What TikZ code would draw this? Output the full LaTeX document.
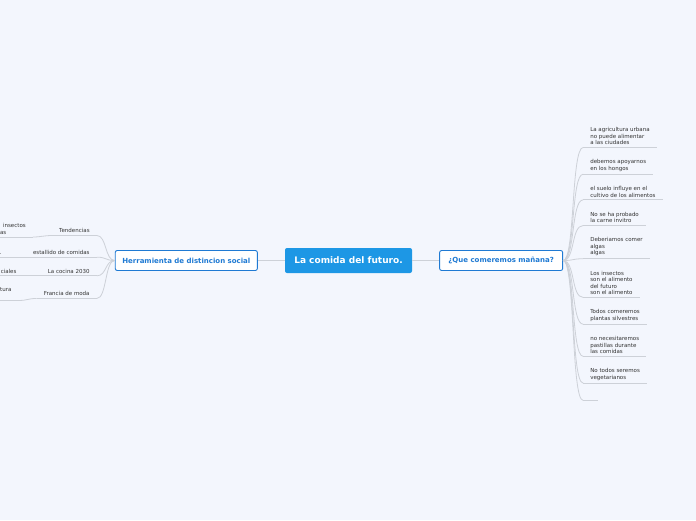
\documentclass[tikz,border=0pt]{standalone}
\usepackage{fontspec}
\setmainfont{DejaVu Sans}
\usepackage{xcolor}
\usetikzlibrary{positioning}

\definecolor{bgblue}{HTML}{F3F6FD}
\definecolor{rootblue}{HTML}{1D97E5}
\definecolor{topicblue}{HTML}{1F7AD3}
\definecolor{linkgray}{HTML}{CDD1D8}
\definecolor{leafgray}{HTML}{333333}

\begin{document}
\begin{tikzpicture}[
    x=1pt, y=-1pt,
    root/.style={
        rectangle,
        rounded corners=2pt,
        fill=rootblue,
        text=white,
        minimum width=127pt,
        minimum height=25pt,
        font=\bfseries\fontsize{9}{10}\selectfont
    },
    topic/.style={
        rectangle,
        rounded corners=2pt,
        draw=topicblue,
        line width=0.9pt,
        fill=white,
        text=topicblue,
        minimum height=20pt,
        inner xsep=7pt,
        font=\bfseries\fontsize{7}{8}\selectfont
    },
    leaf/.style={
        inner xsep=7pt,
        inner ysep=2.5pt,
        align=left,
        text=leafgray,
        font=\fontsize{5.5}{6.5}\selectfont,
        append after command={(\tikzlastnode.south west) edge[link] (\tikzlastnode.south east)}
    },
    link/.style={draw=linkgray, line width=0.8pt}
]

% background and page size
\useasboundingbox[fill=bgblue] (0,0) rectangle (696,520);

% Central idea and main topics
\node (root) [root] at (348.5,260.5) {La comida del futuro.};

\node (herr) [topic, left=27pt of root] {Herramienta de distincion social};

\node (que) [topic, right=27pt of root, minimum width=123pt] {¿Que comeremos mañana?};

% Right branch
\node (agri) [leaf, above right=113pt and 20pt of que.east, anchor=south west]
    {La agricultura urbana\\no puede alimentar\\a las ciudades};

\node (hongos) [leaf, below right=9.5pt and 0pt of agri.south west]
    {debemos apoyarnos\\en los hongos};

\node (suelo) [leaf, below right=9.5pt and 0pt of hongos.south west]
    {el suelo influye en el\\cultivo de los alimentos};

\node (carne) [leaf, below right=9.5pt and 0pt of suelo.south west]
    {No se ha probado\\la carne invitro};

\node (algas) [leaf, below right=9.5pt and 0pt of carne.south west]
    {Deberiamos comer\\algas\\algas};

\node (insectos) [leaf, below right=9.5pt and 0pt of algas.south west]
    {Los insectos\\son el alimento\\del futuro\\son el alimento};

\node (plantas) [leaf, below right=9.5pt and 0pt of insectos.south west]
    {Todos comeremos\\plantas silvestres};

\node (pastillas) [leaf, below right=9.5pt and 0pt of plantas.south west]
    {no necesitaremos\\pastillas durante\\las comidas};

\node (vegetar) [leaf, below right=9.5pt and 0pt of pastillas.south west]
    {No todos seremos\\vegetarianos};

\node (vacio) [leaf, below right=9.5pt and 0pt of vegetar.south west,
    minimum height=7.5pt, minimum width=14pt] {};

% Left branch
\node (tend) [leaf, above left=25pt and 18pt of herr.west, anchor=south east]
    {Tendencias};

\node (estall) [leaf, below left=12pt and 0pt of tend.south east]
    {estallido de comidas};

\node (cocina) [leaf, below left=9pt and 0pt of estall.south east]
    {La cocina 2030};

\node (francia) [leaf, below left=13pt and 0pt of cocina.south east]
    {Francia de moda};

% Left sub-branches (cut by the page edge)
\node (tendsub) [leaf, left=19pt of tend.south west, anchor=south east, yshift=-1.5pt]
    {\hspace*{3pt}insectos\\as};

\node (estallsub) [leaf, left=0pt of estall.south west, anchor=south east]
    {\hspace*{5pt}.\hspace*{17pt}};

\node (cocinasub) [leaf, left=17pt of cocina.south west, anchor=south east]
    {ciales};

\node (franciasub) [leaf, left=18pt of francia.south west, anchor=south east, yshift=-2pt]
    {tura\\~};

% Main connectors
\draw[link] (root) -- (herr);
\draw[link] (root) -- (que);

% Right connectors
\draw[link] (que.east) .. controls +(12,0) and +(-12,0) .. (agri.south west);
\draw[link] (que.east) .. controls +(12,0) and +(-12,0) .. (hongos.south west);
\draw[link] (que.east) .. controls +(12,0) and +(-12,0) .. (suelo.south west);
\draw[link] (que.east) .. controls +(12,0) and +(-12,0) .. (carne.south west);
\draw[link] (que.east) .. controls +(12,0) and +(-12,0) .. (algas.south west);
\draw[link] (que.east) .. controls +(12,0) and +(-12,0) .. (insectos.south west);
\draw[link] (que.east) .. controls +(12,0) and +(-12,0) .. (plantas.south west);
\draw[link] (que.east) .. controls +(12,0) and +(-12,0) .. (pastillas.south west);
\draw[link] (que.east) .. controls +(12,0) and +(-12,0) .. (vegetar.south west);
\draw[link] (que.east) .. controls +(12,0) and +(-12,0) .. (vacio.south west);

% Left connectors
\draw[link] (herr.west) .. controls +(-10,0) and +(10,0) .. (tend.south east);
\draw[link] (herr.west) .. controls +(-10,0) and +(10,0) .. (estall.south east);
\draw[link] (herr.west) .. controls +(-10,0) and +(10,0) .. (cocina.south east);
\draw[link] (herr.west) .. controls +(-10,0) and +(10,0) .. (francia.south east);

\draw[link] (tend.south west) .. controls +(-8,0) and +(8,0) .. (tendsub.south east);
\draw[link] (estall.south west) -- (estallsub.south east);
\draw[link] (cocina.south west) -- (cocinasub.south east);
\draw[link] (francia.south west) .. controls +(-9,0) and +(9,0) .. (franciasub.south east);

\end{tikzpicture}
\end{document}
